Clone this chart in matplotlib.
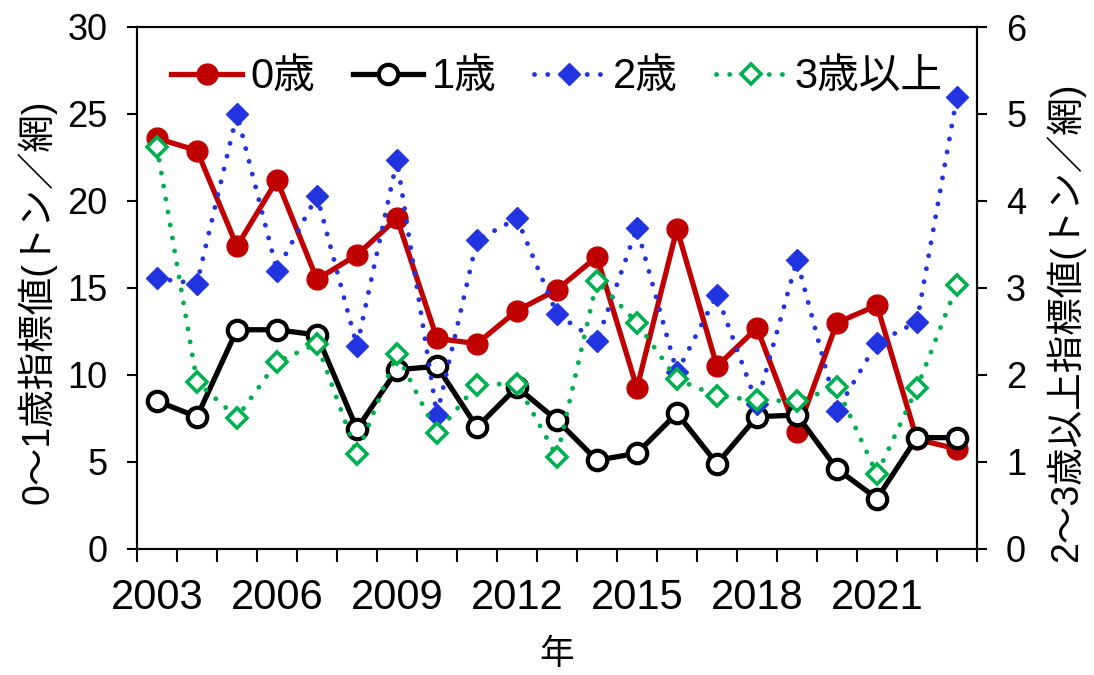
import numpy as np
import matplotlib
matplotlib.use("Agg")
import matplotlib.pyplot as plt
from matplotlib.ticker import FixedLocator, NullFormatter

plt.rcParams['font.family'] = ['Liberation Sans', 'Noto Sans CJK JP', 'DejaVu Sans']

years = list(range(2003, 2024))
age0 = [23.6, 22.9, 17.4, 21.2, 15.5, 16.9, 19.0, 12.1, 11.8, 13.7, 14.9,
        16.8, 9.25, 18.4, 10.5, 12.7, 6.7, 13.0, 14.0, 6.3, 5.75]
age1 = [8.5, 7.6, 12.6, 12.6, 12.3, 6.9, 10.3, 10.5, 7.0, 9.3, 7.4,
        5.1, 5.5, 7.8, 4.9, 7.6, 7.7, 4.6, 2.9, 6.4, 6.4]
age2 = [3.11, 3.05, 5.0, 3.2, 4.06, 2.33, 4.47, 1.54, 3.55, 3.8, 2.7,
        2.39, 3.69, 2.03, 2.92, 1.67, 3.32, 1.59, 2.37, 2.61, 5.2]
age3 = [4.62, 1.92, 1.51, 2.15, 2.36, 1.09, 2.24, 1.33, 1.89, 1.90, 1.06,
        3.08, 2.6, 1.95, 1.76, 1.71, 1.70, 1.86, 0.86, 1.85, 3.03]
labels = ['0歳', '1歳', '2歳', '3歳以上']

x = np.arange(len(years))

fig = plt.figure(figsize=(10.94, 6.75), dpi=100)
ax = fig.add_axes([0.1252, 0.1867, 0.893 - 0.1252, 0.96 - 0.1867])
ax2 = ax.twinx()

l0, = ax.plot(x, age0, color='#c00000', lw=3.8, marker='o', ms=15,
              mfc='#c00000', mec='#c00000', label=labels[0])
l1, = ax.plot(x, age1, color='black', lw=3.8, marker='o', ms=14,
              mfc='white', mec='black', mew=3, label=labels[1])
l2, = ax2.plot(x, age2, color='#2233e0', lw=3.5, dashes=(0.01, 2.7),
               dash_capstyle='round', marker='D', ms=11, mfc='#2233e0',
               mec='#2233e0', label=labels[2])
l3, = ax2.plot(x, age3, color='#00b050', lw=3.5, dashes=(0.01, 2.7),
               dash_capstyle='round', marker='D', ms=10, mfc='white',
               mec='#00b050', mew=2.6, label=labels[3])

ax.set_xlim(-0.5, len(years) - 0.5)
ax.set_ylim(0, 30)
ax2.set_ylim(0, 6)
ax.set_yticks(np.arange(0, 31, 5))
ax2.set_yticks(np.arange(0, 7, 1))

ax.xaxis.set_major_locator(FixedLocator(x[::3]))
ax.set_xticklabels([str(y) for y in years[::3]])
ax.xaxis.set_minor_locator(FixedLocator(np.arange(-0.5, len(years), 1)))
ax.xaxis.set_minor_formatter(NullFormatter())
ax.tick_params(axis='x', which='major', length=0, pad=21, labelsize=30)
ax.tick_params(axis='x', which='minor', length=9, width=1.5, direction='out')
ax.tick_params(axis='y', length=7, width=1.5, direction='out', pad=14, labelsize=26)
ax2.tick_params(axis='y', length=7, width=1.5, direction='out', pad=14, labelsize=26)

for a in (ax, ax2):
    for s in a.spines.values():
        s.set_linewidth(1.5)

ax.set_ylabel('0〜1歳指標値(トン／網)', fontsize=27, labelpad=8)
ax2.set_ylabel('2〜3歳以上指標値(トン／網)', fontsize=27, labelpad=14)
ax.yaxis.label.set_y(0.473)
ax2.yaxis.label.set_y(0.435)
ax.set_xlabel('年', fontsize=25, labelpad=14)

ax2.legend([l0, l1, l2, l3], labels, loc='upper center', ncol=4, frameon=False,
           fontsize=30, handlelength=1.7, columnspacing=0.9, handletextpad=0.2,
           bbox_to_anchor=(0.5, 0.99), borderaxespad=0.2)

fig.savefig('out.png', dpi=100)
